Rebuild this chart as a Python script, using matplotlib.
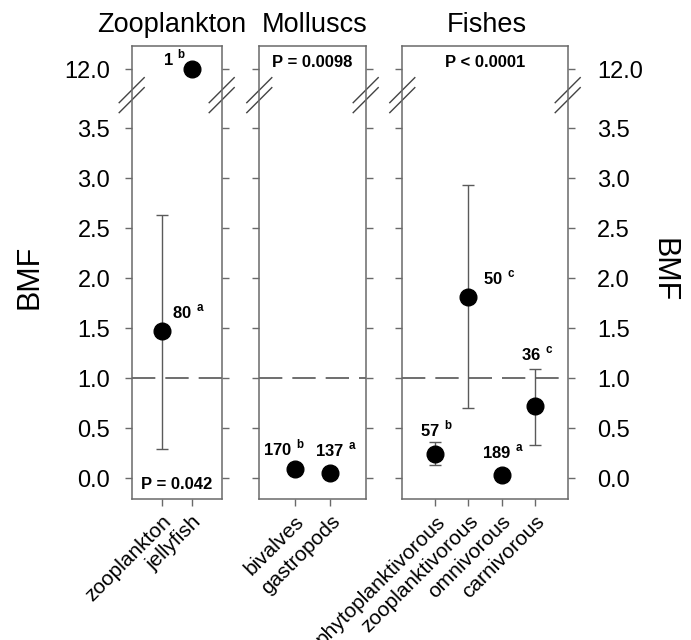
import numpy as np
import matplotlib
matplotlib.use("Agg")
import matplotlib.pyplot as plt

plt.rcParams['font.family'] = ['Liberation Sans', 'DejaVu Sans']
plt.rcParams['mathtext.fontset'] = 'custom'
plt.rcParams['mathtext.rm'] = 'Liberation Sans'
plt.rcParams['mathtext.bf'] = 'Liberation Sans:bold'

# data (BMF mean, error bar low/high, n, letter)
zoo_groups = ["zooplankton", "jellyfish"]
zoo_bmf = [1.47, 12.0]
zoo_lo = [0.29, np.nan]
zoo_hi = [2.63, np.nan]
zoo_n = [80, 1]
zoo_letter = ["a", "b"]

mol_groups = ["bivalves", "gastropods"]
mol_bmf = [0.09, 0.05]
mol_lo = [np.nan, np.nan]
mol_hi = [np.nan, np.nan]
mol_n = [170, 137]
mol_letter = ["b", "a"]

fish_groups = ["phytoplanktivorous", "zooplanktivorous", "omnivorous", "carnivorous"]
fish_bmf = [0.24, 1.81, 0.03, 0.72]
fish_lo = [0.13, 0.70, np.nan, 0.33]
fish_hi = [0.36, 2.93, np.nan, 1.09]
fish_n = [57, 50, 189, 36]
fish_letter = ["b", "c", "a", "c"]

titles = ["Zooplankton", "Molluscs", "Fishes"]
pvalues = ["P = 0.042", "P = 0.0098", "P < 0.0001"]
yticks = [0.0, 0.5, 1.0, 1.5, 2.0, 2.5, 3.0, 3.5, 12.0]

# label offsets (points) relative to each mean
zoo_off = [(19, 14), (-12, 8)]
mol_off = [(-8, 15), (4, 17)]
fish_off = [(1, 18), (22, 14), (1, 17), (2, 38)]

# broken y axis: linear up to 3.6, squeeze 3.6..11.6, linear again above
BRK_LO, BRK_HI, SHIFT = 3.6, 11.6, 7.907


def fwd(y):
    y = np.asarray(y, dtype=float)
    top = BRK_HI - SHIFT
    mid = BRK_LO + (y - BRK_LO) * (top - BRK_LO) / (BRK_HI - BRK_LO)
    return np.where(y <= BRK_LO, y, np.where(y >= BRK_HI, y - SHIFT, mid))


def inv(t):
    t = np.asarray(t, dtype=float)
    top = BRK_HI - SHIFT
    mid = BRK_LO + (t - BRK_LO) * (BRK_HI - BRK_LO) / (top - BRK_LO)
    return np.where(t <= BRK_LO, t, np.where(t >= top, t + SHIFT, mid))


W, H = 691, 640
fig = plt.figure(figsize=(W / 100, H / 100), dpi=100)

boxes = [(131.7, 90.0), (259.3, 106.4), (402.3, 165.4)]
title_x = [0.44, 0.52, 0.51]
top_px, bot_px = 45.7, 499.3
gray = '#6a6a6a'

panels = [
    (zoo_groups, zoo_bmf, zoo_lo, zoo_hi, zoo_n, zoo_letter, zoo_off),
    (mol_groups, mol_bmf, mol_lo, mol_hi, mol_n, mol_letter, mol_off),
    (fish_groups, fish_bmf, fish_lo, fish_hi, fish_n, fish_letter, fish_off),
]

for k, (groups, bmf, lo, hi, n, letter, off) in enumerate(panels):
    left, width = boxes[k]
    ax = fig.add_axes([left / W, 1 - bot_px / H, width / W, (bot_px - top_px) / H])
    ax.set_yscale('function', functions=(fwd, inv))
    ax.set_ylim(-0.21, 12.233)
    x = np.arange(1, len(groups) + 1)
    ax.set_xlim(0, len(groups) + 1)

    ax.axhline(1.0, color='#555555', lw=1.2, dashes=(14, 6), zorder=1)

    bmf = np.array(bmf)
    lo = np.array(lo)
    hi = np.array(hi)
    has = ~np.isnan(lo)
    if has.any():
        ax.errorbar(x[has], bmf[has], yerr=[bmf[has] - lo[has], hi[has] - bmf[has]],
                    fmt='none', ecolor='#5a5a5a', elinewidth=1.0, capsize=4.5,
                    capthick=1.0, zorder=2)
    ax.plot(x, bmf, 'o', color='black', markersize=12, zorder=3, linestyle='none')

    for xi, v, ni, li, (dx, dy) in zip(x, bmf, n, letter, off):
        ax.annotate(f"{ni}$\\ ^{{\\mathbf{{{li}}}}}$", xy=(xi, v), xytext=(dx, dy),
                    textcoords='offset points', ha='center', va='center',
                    fontsize=12, fontweight='bold')

    if k == 0:
        ax.text(0.5, 0.032, pvalues[k], transform=ax.transAxes, ha='center',
                va='center', fontsize=12, fontweight='bold')
    else:
        ax.text(0.5, 0.964, pvalues[k], transform=ax.transAxes, ha='center',
                va='center', fontsize=12, fontweight='bold')

    ax.set_title(titles[k], fontsize=19.5, pad=10, x=title_x[k])

    ax.set_yticks(yticks)
    ax.set_yticklabels([f"{t:.1f}" for t in yticks])
    ax.set_xticks(x)
    ax.set_xticklabels(groups, rotation=45, ha='right', rotation_mode='anchor',
                       fontsize=15)
    ax.tick_params(axis='x', direction='out', length=5, width=1, color=gray, pad=4)
    ax.tick_params(axis='y', direction='out', length=5, width=1, color=gray,
                   labelsize=17, left=True, right=True,
                   labelleft=(k == 0), labelright=(k == 2),
                   pad=10.5 if k == 0 else 16)
    for s in ax.spines.values():
        s.set_color(gray)
        s.set_linewidth(1.1)

    # double-slash break marks on the y spines
    dx = 12.5 / width
    dy = 12.5 / (bot_px - top_px)
    for xs in (0, 1):
        for yc in (0.902, 0.880):
            ax.plot([xs - dx, xs + dx], [yc - dy, yc + dy], transform=ax.transAxes,
                    color='#444444', lw=1.0, clip_on=False)

fig.text(30 / W, 1 - 277 / H, "BMF", rotation=90, ha='center', va='center', fontsize=22)
fig.text(663 / W, 1 - 270 / H, "BMF", rotation=270, ha='center', va='center', fontsize=22)

fig.savefig("out.png", dpi=100)
